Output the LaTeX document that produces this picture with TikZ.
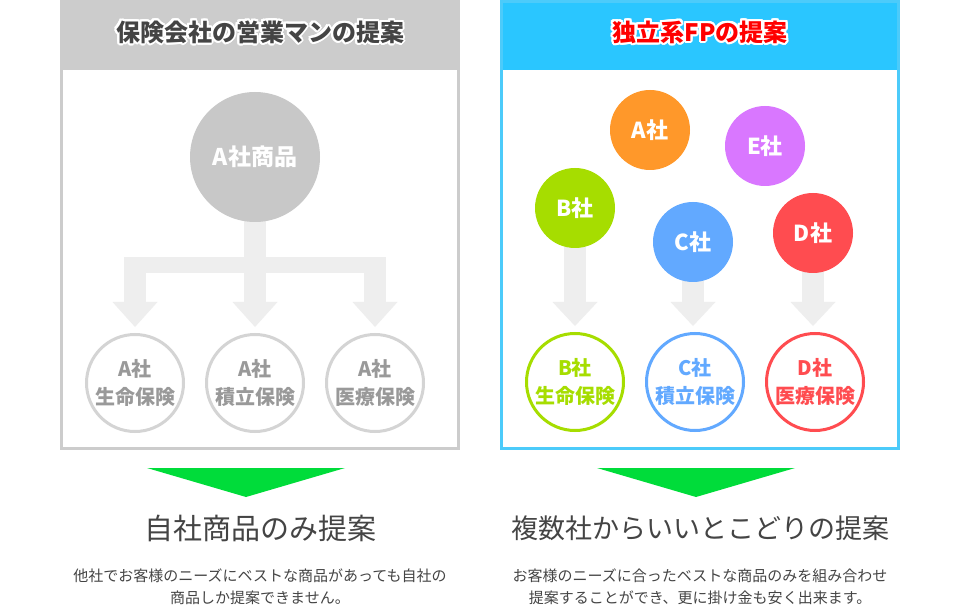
\documentclass[tikz,border=0pt]{standalone}
\usepackage{fontspec}
\setmainfont{Noto Sans CJK JP}
\usepackage{contour}
\contourlength{2pt}
\contournumber{20}
\definecolor{hdrgray}{HTML}{CCCCCC}
\definecolor{bluebd}{HTML}{4CCBFA}
\definecolor{bluehd}{HTML}{2AC6FF}
\definecolor{arrowgray}{HTML}{EEEEEE}
\definecolor{bigcirc}{HTML}{C8C8C8}
\definecolor{ringgray}{HTML}{D4D4D4}
\definecolor{ringtext}{HTML}{999999}
\definecolor{corA}{HTML}{FF982A}
\definecolor{corB}{HTML}{A6DD00}
\definecolor{corC}{HTML}{62A9FF}
\definecolor{corD}{HTML}{FF4C50}
\definecolor{corE}{HTML}{D977FF}
\definecolor{greentri}{HTML}{00DC3A}
\definecolor{textdark}{HTML}{444444}
\definecolor{hdrred}{HTML}{FF0000}
\tikzset{
  hdrtext/.style={font=\bfseries\fontsize{24}{24}\selectfont, inner sep=0pt},
  firm/.style={circle, inner sep=0pt, minimum size=80pt, text=white, font=\bfseries\fontsize{22}{22}\selectfont},
  ring/.style={circle, inner sep=0pt, minimum size=97pt, line width=3pt, fill=white, align=center, font=\bfseries\fontsize{20}{28}\selectfont},
  title/.style={text=textdark, inner sep=0pt},
  desc/.style={font=\fontsize{15}{22}\selectfont, text=textdark, align=center, inner sep=0pt},
}
\begin{document}
\begin{tikzpicture}[x=1pt,y=-1pt]
\useasboundingbox (0,0) rectangle (960,609);
% left panel
\fill[hdrgray] (60,0) rectangle (460,450);
\fill[white] (63,70) rectangle (457,447);
\node[hdrtext, text=textdark] (hdrL) at (260,33) {\contour{white}{保険会社の営業マンの提案}};
% right panel
\fill[bluebd] (500,0) rectangle (900,450);
\fill[bluehd] (503,3) rectangle (897,70);
\fill[white] (503,70) rectangle (897,447);
\node[hdrtext, text=hdrred] (hdrR) at (700,33) {\contour{white}{独立系FPの提案}};
% left tree arrow
\fill[arrowgray] (244,200) rectangle (266,273);
\fill[arrowgray] (124,257) rectangle (386,273);
\foreach \x in {135,255,375} {
  \fill[arrowgray] (\x-11,257) rectangle (\x+11,303);
  \fill[arrowgray] (\x-22.5,302) -- (\x+22.5,302) -- (\x,327) -- cycle;
}
\node[circle, fill=bigcirc, minimum size=130pt, inner sep=0pt, text=white, font=\bfseries\fontsize{23}{23}\selectfont] (big) at (255,157) {A社商品};
\node[ring, draw=ringgray, text=ringtext] (L1) at (135,383) {A社\\生命保険};
\node[ring, draw=ringgray, text=ringtext] (L2) at (255,383) {A社\\積立保険};
\node[ring, draw=ringgray, text=ringtext] (L3) at (375,383) {A社\\医療保険};
% right arrows
\foreach \x/\t in {575/208, 693/242, 813/233} {
  \fill[arrowgray] (\x-11,\t) rectangle (\x+11,303);
  \fill[arrowgray] (\x-22.5,302) -- (\x+22.5,302) -- (\x,326) -- cycle;
}
\node[firm, fill=corA] (A) at (650,130) {A社};
\node[firm, fill=corE] (E) at (765,146) {E社};
\node[firm, fill=corB] (B) at (575,208) {B社};
\node[firm, fill=corC] (C) at (693,242) {C社};
\node[firm, fill=corD] (D) at (813,233) {D社};
\node[ring, draw=corB, text=corB] (R1) at (575,382) {B社\\生命保険};
\node[ring, draw=corC, text=corC] (R2) at (695,382) {C社\\積立保険};
\node[ring, draw=corD, text=corD] (R3) at (815,382) {D社\\医療保険};
% green triangles
\fill[greentri] (147,468) -- (345,468) -- (246,497) -- cycle;
\fill[greentri] (597,468) -- (795,468) -- (696,497) -- cycle;
% texts
\node[title, font=\fontsize{29}{29}\selectfont] (titleL) at (260,528) {自社商品のみ提案};
\node[title, font=\fontsize{27}{27}\selectfont] (titleR) at (700,528) {複数社からいいとこどりの提案};
\node[desc] (descL) at (260,587) {他社でお客様のニーズにベストな商品があっても自社の\\商品しか提案できません。};
\node[desc] (descR) at (700,587) {お客様のニーズに合ったベストな商品のみを組み合わせ\\提案することができ、更に掛け金も安く出来ます。};
\end{tikzpicture}
\end{document}
